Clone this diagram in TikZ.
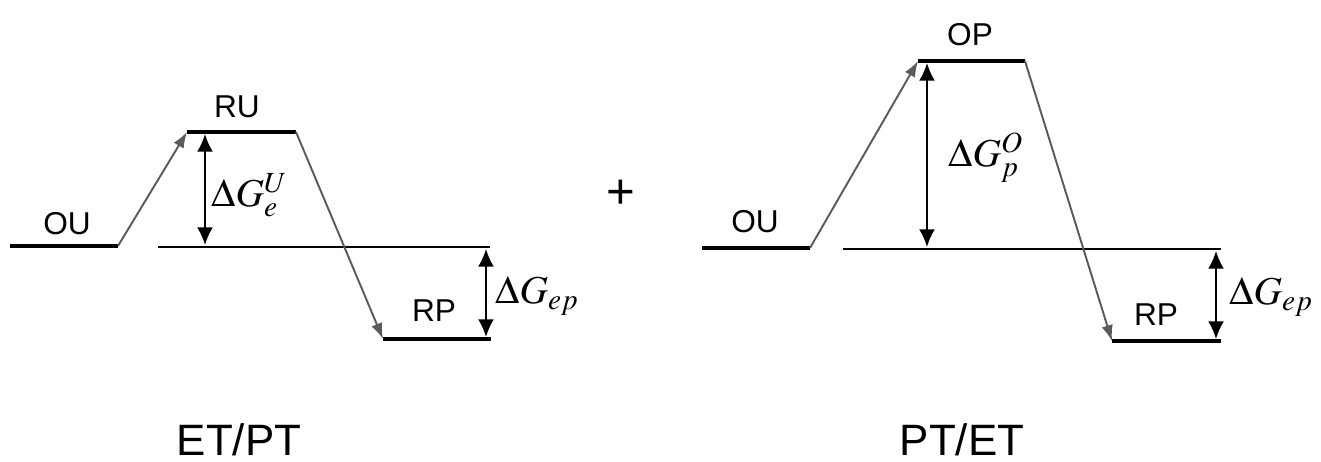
\documentclass[tikz,border=0pt]{standalone}
\usepackage{mathptmx}
\usepackage{fontspec}
\setmainfont{Liberation Sans}
\usepackage{tikz}
\usetikzlibrary{arrows.meta}
\usepackage{xcolor}
\definecolor{routegray}{RGB}{90,90,90}

\begin{document}
\begin{tikzpicture}[x=0.02cm,y=-0.02cm, >=Latex]
  \tikzstyle{enline}=[line width=2.3pt]
  \tikzstyle{refline}=[line width=1.3pt]
  \tikzstyle{route}=[-{Latex[length=9pt,width=6.5pt]}, line width=1.1pt, draw=routegray]
  \tikzstyle{gap}=[{Latex[length=10pt,width=9pt]}-{Latex[length=10pt,width=9pt]}, line width=1.1pt]
  \tikzstyle{tag}=[font=\fontsize{18}{21}\selectfont, inner sep=0pt]
  \tikzstyle{energy}=[font=\fontsize{22.5}{26}\selectfont, inner sep=0pt, anchor=base west]
  \tikzstyle{caption}=[font=\fontsize{25}{30}\selectfont, inner sep=0pt, anchor=base]
  \useasboundingbox (0,0) rectangle (1321,462);

  % ET/PT
  \coordinate (ouA1) at (10,246);   \coordinate (ouA2) at (118,246);
  \coordinate (ruA1) at (187,132);  \coordinate (ruA2) at (296,132);
  \coordinate (refA1) at (158,247); \coordinate (refA2) at (490,247);
  \coordinate (rpA1) at (383,339);  \coordinate (rpA2) at (491,339);
  \coordinate (eUtop) at (205,134); \coordinate (eUbot) at (205,245);
  \coordinate (epAtop) at (486,249); \coordinate (epAbot) at (486,337);
  \draw[enline] (ouA1) -- (ouA2);
  \draw[enline] (ruA1) -- (ruA2);
  \draw[enline] (rpA1) -- (rpA2);
  \draw[refline] (refA1) -- (refA2);
  \draw[route] (ouA2) -- (ruA1);
  \draw[route] (ruA2) -- (rpA1);
  \draw[gap] (eUtop) -- (eUbot);
  \draw[gap] (epAtop) -- (epAbot);
  \node[tag] (tOUa) at (67,224) {OU};
  \node[tag] (tRUa) at (237,107) {RU};
  \node[tag] (tRPa) at (434,311) {RP};
  \node[energy] (dGeU) at (211,207) {$\Delta G_e^U$};
  \node[energy] (dGepA) at (495,304) {$\Delta G_{ep}$};
  \node[caption] (capA) at (239,455) {ET/PT};

  \node[font=\fontsize{28}{32}\selectfont, inner sep=0pt] (plus) at (621,194) {+};

  % PT/ET
  \coordinate (ouB1) at (702,248);  \coordinate (ouB2) at (810,248);
  \coordinate (opB1) at (918,61);   \coordinate (opB2) at (1025,61);
  \coordinate (refB1) at (843,249); \coordinate (refB2) at (1221,249);
  \coordinate (rpB1) at (1112,341); \coordinate (rpB2) at (1221,341);
  \coordinate (pOtop) at (927,63);  \coordinate (pObot) at (927,247);
  \coordinate (epBtop) at (1216,251); \coordinate (epBbot) at (1216,339);
  \draw[enline] (ouB1) -- (ouB2);
  \draw[enline] (opB1) -- (opB2);
  \draw[enline] (rpB1) -- (rpB2);
  \draw[refline] (refB1) -- (refB2);
  \draw[route] (ouB2) -- (opB1);
  \draw[route] (opB2) -- (rpB1);
  \draw[gap] (pOtop) -- (pObot);
  \draw[gap] (epBtop) -- (epBbot);
  \node[tag] (tOUb) at (755,222) {OU};
  \node[tag] (tOPb) at (970,35) {OP};
  \node[tag] (tRPb) at (1156,315) {RP};
  \node[energy] (dGpO) at (948,167) {$\Delta G_p^O$};
  \node[energy] (dGepB) at (1229,305) {$\Delta G_{ep}$};
  \node[caption] (capB) at (962,455) {PT/ET};
\end{tikzpicture}
\end{document}
